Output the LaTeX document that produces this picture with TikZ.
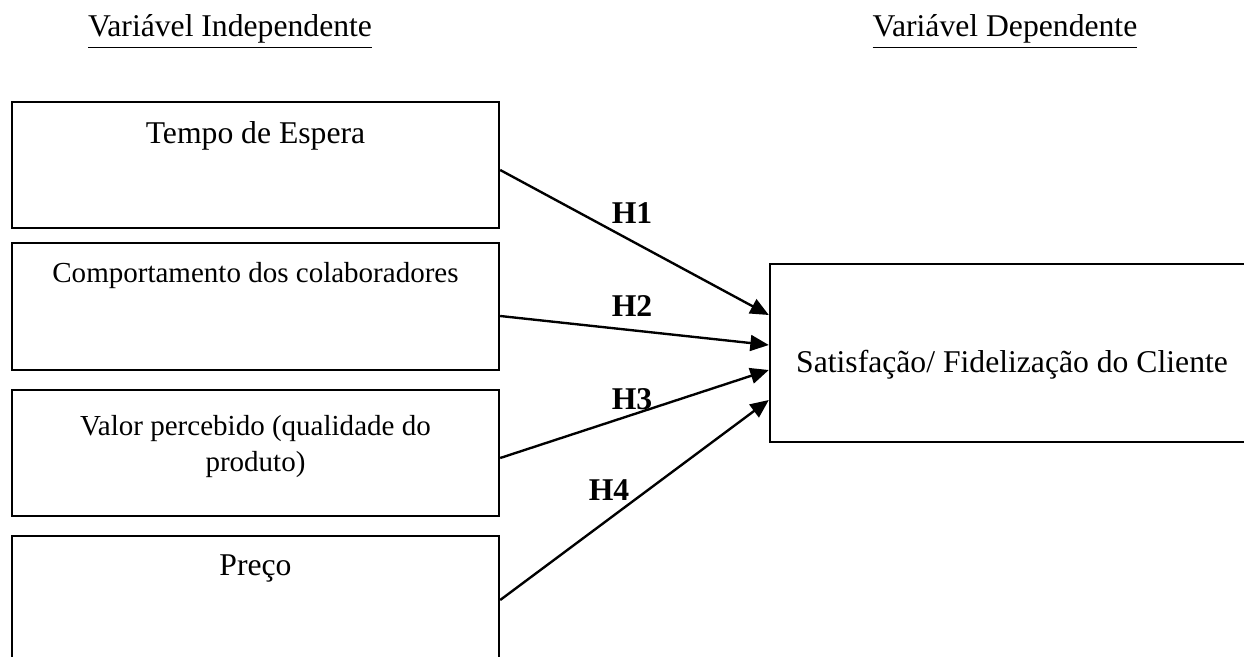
\documentclass[tikz,border=0pt]{standalone}
\usepackage{fontspec}
\setmainfont{Liberation Serif}
\usetikzlibrary{arrows.meta,positioning,calc}
\newlength\pxu
\setlength\pxu{0.379pt}

\begin{document}
\begin{tikzpicture}[x=0.379pt, y=-0.379pt, font=\fontsize{12}{14}\selectfont,
  box/.style={draw, line width=0.9pt, minimum width=487\pxu, inner sep=0pt},
  small/.style={font=\fontsize{11}{13.3}\selectfont},
  hyp/.style={-{Triangle[length=7pt,width=6pt]}, line width=0.9pt},
  hlab/.style={font=\fontsize{12}{14}\selectfont\bfseries, anchor=base}]
\useasboundingbox (0,0) rectangle (1244,657);
\clip (0,0) rectangle (1244,657);
% column headings
\node[anchor=base] (indep) at (230,37) {\underline{Variável Independente}};
\node[anchor=base] (dep) at (1005,37) {\underline{Variável Dependente}};
% independent variables
\node[box, minimum height=126\pxu] (tempo) at (255.5,165) {};
\node[anchor=base] (tempotxt) at (255.5,143) {Tempo de Espera};
\node[box, minimum height=127\pxu] (comp) at (255.5,306.5) {};
\node[anchor=base, small] (comptxt) at (255.5,282) {Comportamento dos colaboradores};
\node[box, minimum height=126\pxu] (valor) at (255.5,453) {};
\node[anchor=base, small, align=center] (valortxt) at (255.5,471) {Valor percebido (qualidade do\\produto)};
\node[box, minimum height=150\pxu] (preco) at (255.5,611) {};
\node[anchor=base] (precotxt) at (255.5,575) {Preço};
% dependent variable (runs off the right edge)
\node[draw, line width=0.9pt, minimum width=500\pxu, minimum height=178\pxu] (sat) at (1020,353) {};
\node[anchor=base] (sattxt) at (1012,372) {Satisfação/ Fidelização do Cliente};
% hypotheses
\draw[hyp] ([yshift=-5\pxu]tempo.east) -- ([yshift=38\pxu]sat.west);
\draw[hyp] ([yshift=-9.5\pxu]comp.east) -- ([yshift=8\pxu]sat.west);
\draw[hyp] ([yshift=-5\pxu]valor.east) -- ([yshift=-17\pxu]sat.west);
\draw[hyp] ([yshift=11\pxu]preco.east) -- ([yshift=-47\pxu]sat.west);
\node[hlab] (h1) at (632,224) {H1};
\node[hlab] (h2) at (632,316) {H2};
\node[hlab] (h3) at (632,409) {H3};
\node[hlab] (h4) at (609,500) {H4};
\end{tikzpicture}
\end{document}
